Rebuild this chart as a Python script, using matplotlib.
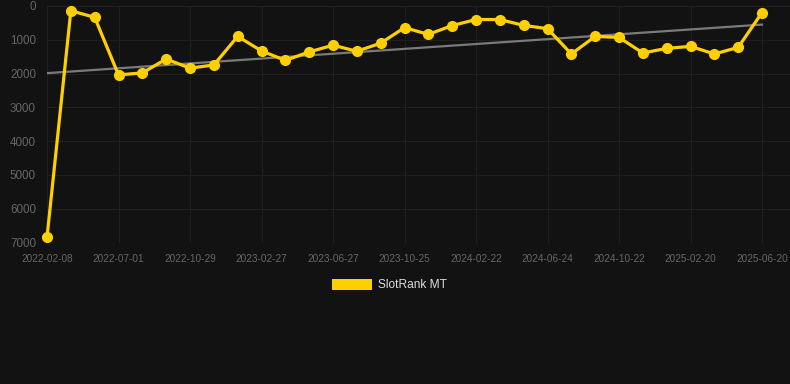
import numpy as np
import matplotlib
matplotlib.use('Agg')
import matplotlib.pyplot as plt

# rank values, one per point (lower = better, axis inverted)
ranks = [6850, 140, 336, 2040, 1980, 1570, 1840, 1745, 900, 1330,
         1610, 1360, 1160, 1340, 1100, 640, 840, 580, 400, 400,
         575, 670, 1420, 900, 930, 1390, 1255, 1195, 1420, 1225, 195]
# labels shown on every 3rd point
date_labels = ['2022-02-08', '2022-07-01', '2022-10-29', '2023-02-27', '2023-06-27',
               '2023-10-25', '2024-02-22', '2024-06-24', '2024-10-22', '2025-02-20',
               '2025-06-20']
label_step = 3
yticks = [0, 1000, 2000, 3000, 4000, 5000, 6000, 7000]
series_name = 'SlotRank MT'

plt.rcParams['font.family'] = ['Liberation Sans', 'DejaVu Sans']

bg = '#121212'
yellow = '#FFD000'

W, H = 790, 384
fig = plt.figure(figsize=(W/100, H/100), dpi=100, facecolor=bg)
left, right, top, bot = 47, 790, 6, 242.5
ax = fig.add_axes([left/W, 1-bot/H, (right-left)/W, (bot-top)/H])
ax.set_facecolor(bg)

x = np.arange(len(ranks))
# linear trend
k, b = np.polyfit(x, ranks, 1)
ax.plot([x[0], x[-1]], [k*x[0]+b, k*x[-1]+b], color='#7a7a7a', lw=1.6, zorder=2)

ax.plot(x, ranks, color=yellow, lw=2.3, marker='o', ms=7, zorder=3, clip_on=False)

span = (right-left) / (762-left) * (len(ranks)-1)
ax.set_xlim(0, span)
ax.set_ylim(7000, 0)

tick_pos = np.arange(len(date_labels)) * label_step
ax.set_xticks(tick_pos)
ax.set_xticklabels(date_labels)
ax.set_yticks(yticks)
ax.set_yticklabels([str(v) for v in yticks])

ax.tick_params(axis='x', colors='#666666', labelsize=7.2, length=0, pad=8.5)
ax.tick_params(axis='y', colors='#666666', labelsize=8.4, length=0, pad=8)
ax.grid(True, color='#1f1f1f', lw=0.8)
ax.set_axisbelow(True)
for s in ax.spines.values():
    s.set_visible(False)

# legend patch + text
fig.patches.append(plt.Rectangle((332/W, 1-290/H), 40/W, 11/H, transform=fig.transFigure,
                                 facecolor=yellow, edgecolor='none'))
fig.text(378/W, 1-285/H, series_name, color='#dddddd', fontsize=8.6, va='center', ha='left')

fig.savefig('out.png', dpi=100, facecolor=bg)
